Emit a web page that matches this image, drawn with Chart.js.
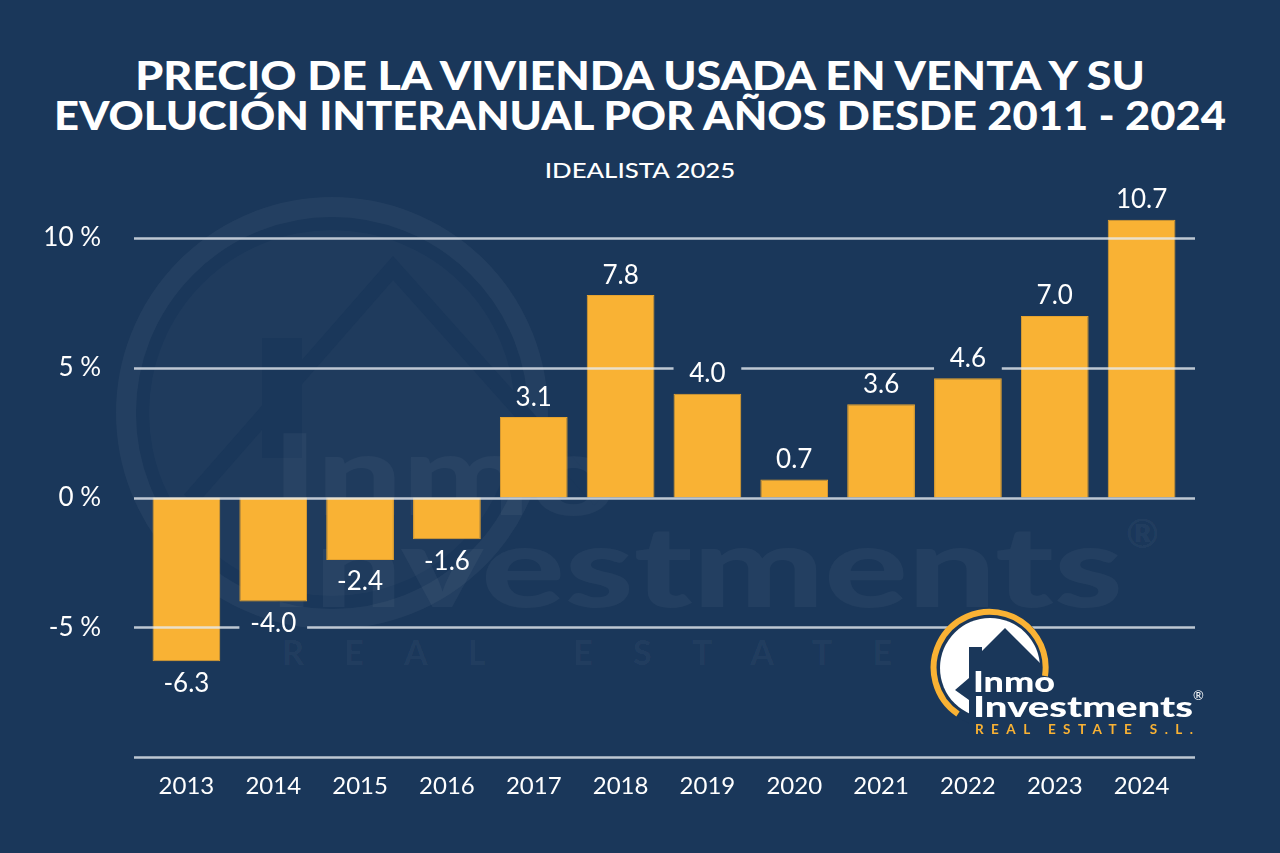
<!DOCTYPE html>
<html>
<head>
<meta charset="utf-8">
<script src="https://cdn.jsdelivr.net/npm/chart.js@4.4.1/dist/chart.umd.min.js"></script>
<style>
  body { margin: 0; background: #1a375a; }
  #wrap { position: relative; width: 1280px; height: 853px; overflow: hidden; }
  #wrap svg, #wrap canvas { position: absolute; left: 0; top: 0; }
  .fit {
    position: absolute; left: 640px; white-space: nowrap; color: #fff;
    font-family: Lato, sans-serif; transform: translateX(-50%);
  }
  .title { font-size: 39px; line-height: 40px; font-weight: 900; }
  .subtitle { font-size: 22px; line-height: 22px; font-weight: 500; }
</style>
</head>
<body>
<div id="wrap">
  <!-- faint watermark behind the chart -->
  <svg width="1280" height="853">
    <circle cx="332" cy="413" r="206" fill="none" stroke="rgba(255,255,255,0.045)" stroke-width="20"/>
    <circle cx="332" cy="413" r="183" fill="rgba(255,255,255,0.025)"/>
    <polyline points="190,500 393,268 600,500" fill="none" stroke="#1a375a" stroke-width="16"/>
    <rect x="262" y="338" width="40" height="120" fill="#1a375a"/>
    <g fill="rgba(255,255,255,0.045)" font-family="Lato, sans-serif" font-weight="900">
      <text x="272" y="515" font-size="112" textLength="345" lengthAdjust="spacingAndGlyphs">Inmo</text>
      <text x="268" y="607" font-size="112" textLength="855" lengthAdjust="spacingAndGlyphs">Investments</text>
      <text x="282" y="665" font-size="34" font-weight="700" textLength="610">REAL ESTATE</text>
      <text x="1126" y="548" font-size="40">®</text>
    </g>
  </svg>
  <div class="fit title" style="top:55px" data-w="1010">PRECIO DE LA VIVIENDA USADA EN VENTA Y SU</div>
  <div class="fit title" style="top:95px" data-w="1172">EVOLUCIÓN INTERANUAL POR AÑOS DESDE 2011 - 2024</div>
  <div class="fit subtitle" style="top:159px" data-w="191">IDEALISTA 2025</div>
  <canvas id="myChart" width="1280" height="853"></canvas>
  <!-- company logo, bottom right -->
  <svg width="1280" height="853">
    <defs><clipPath id="disk"><circle cx="990" cy="668" r="50"/></clipPath></defs>
    <circle cx="990" cy="668" r="59" fill="#1a375a"/>
    <rect x="930" y="610" width="120" height="120" fill="#fff" clip-path="url(#disk)"/>
    <polygon fill="#1a375a" points="1005,628 1062,685 1062,740 969,740 969,700 955,690 969,678 969,647 982,647 982,651"/>
    <path d="M958,714 A56,56 0 1 1 1045,676" fill="none" stroke="#f9b234" stroke-width="6"/>
    <g font-family="Lato, sans-serif" font-weight="900" fill="#fff">
      <text x="973" y="692" font-size="29" textLength="82" lengthAdjust="spacingAndGlyphs">Inmo</text>
      <text x="973" y="717" font-size="29" textLength="220" lengthAdjust="spacingAndGlyphs">Investments</text>
      <text x="1193" y="700" font-size="13" font-weight="400">®</text>
    </g>
    <text x="975" y="734" font-family="Lato, sans-serif" font-weight="700" font-size="13.5" fill="#f9b234" textLength="218">REAL ESTATE S.L.</text>
  </svg>
</div>
<script>
const ctx = document.getElementById('myChart');

// Values (yearly change of second-hand housing price, %)
const years = ['2013', '2014', '2015', '2016', '2017', '2018', '2019', '2020', '2021', '2022', '2023', '2024'];
const variation = [-6.3, -4.0, -2.4, -1.6, 3.1, 7.8, 4.0, 0.7, 3.6, 4.6, 7.0, 10.7];
const yTicks = [-10, -5, 0, 5, 10];

const barColor = '#f9b234';

// Stretch the heading lines to the width they have in the original.
document.fonts.ready.then(() => {
  document.querySelectorAll('.fit').forEach((el) => {
    const k = Number(el.dataset.w) / el.offsetWidth;
    el.style.transform = `translateX(-50%) scaleX(${k})`;
  });
});

Chart.defaults.font.family = 'Lato, sans-serif';
Chart.defaults.color = '#ffffff';

// Gridlines go over the bars, but leave a gap where a value label sits.
const overlayPlugin = {
  id: 'overlay',
  afterDatasetsDraw(chart) {
    const c = chart.ctx;
    const area = chart.chartArea;
    const yScale = chart.scales.y;
    const meta = chart.getDatasetMeta(0);

    const labels = meta.data.map((bar, i) => {
      const p = bar.getProps(['x', 'y', 'width'], true);
      const value = variation[i];
      return { x: p.x, y: value >= 0 ? p.y - 21 : p.y + 21, w: p.width, text: value.toFixed(1) };
    });

    c.save();
    c.beginPath();
    c.rect(0, 0, chart.width, chart.height);
    labels.forEach((l) => c.rect(l.x - l.w / 2, l.y - 13, l.w, 26));
    c.clip('evenodd');
    c.strokeStyle = 'rgba(230,235,241,0.8)';
    c.lineWidth = 2.5;
    for (const v of yTicks) {
      const y = Math.round(yScale.getPixelForValue(v)) + 0.5;
      c.beginPath();
      c.moveTo(area.left - 9, y);
      c.lineTo(area.right + 10, y);
      c.stroke();
    }
    c.restore();

    c.save();
    c.font = '26px Lato, sans-serif';
    c.textAlign = 'center';
    c.textBaseline = 'middle';
    c.fillStyle = '#ffffff';
    labels.forEach((l) => c.fillText(l.text, l.x, l.y + 1));
    c.restore();
  },
};

const myChart = new Chart(ctx, {
  type: 'bar',
  data: {
    labels: years,
    datasets: [
      {
        data: variation,
        backgroundColor: barColor,
        borderColor: '#e6a32f',
        borderWidth: 1,
        categoryPercentage: 1,
        barPercentage: 0.78,
        clip: false,
      },
    ],
  },
  options: {
    responsive: false,
    animation: false,
    layout: {
      padding: { top: 238, left: 0, right: 95, bottom: 37 },
    },
    plugins: {
      legend: { display: false },
      tooltip: { enabled: false },
    },
    scales: {
      x: {
        grid: { display: false, drawTicks: false },
        border: { display: false },
        ticks: { color: '#ffffff', font: { size: 24 }, padding: 15 },
      },
      y: {
        min: -10,
        max: 10,
        afterFit: (scale) => {
          scale.width = 143;
        },
        afterBuildTicks: (scale) => {
          scale.ticks = yTicks.map((v) => ({ value: v }));
        },
        grid: { display: false, drawTicks: false },
        border: { display: false },
        ticks: {
          color: '#ffffff',
          font: { size: 26 },
          padding: 42,
          callback: (v) => (v === -10 ? '' : v + ' %'),
        },
      },
    },
  },
  plugins: [overlayPlugin],
});
</script>
</body>
</html>
